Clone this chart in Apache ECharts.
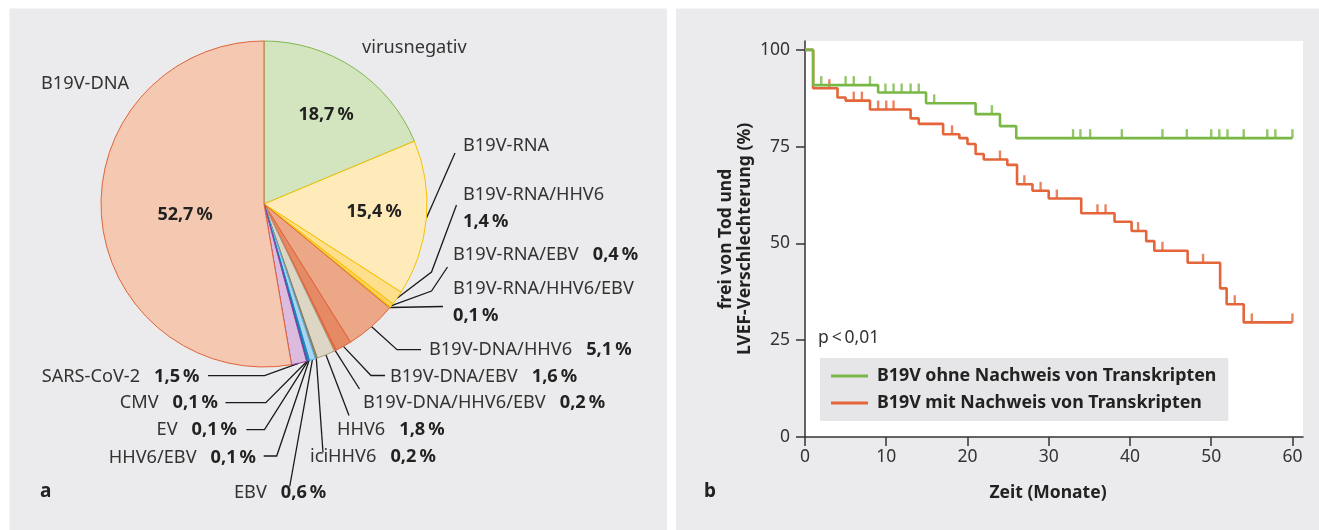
<!DOCTYPE html>
<html>
<head>
<meta charset="utf-8">
<script src="https://cdn.jsdelivr.net/npm/echarts@6/dist/echarts.min.js"></script>
<style>
html,body{margin:0;padding:0;background:#fff;}
#c{width:1319px;height:530px;}
</style>
</head>
<body>
<div id="c"></div>
<script>
// ---------- Data: panel a (pie) ----------
const pieNames = ['virusnegativ','B19V-RNA','B19V-RNA/HHV6','B19V-RNA/EBV','B19V-RNA/HHV6/EBV',
  'B19V-DNA/HHV6','B19V-DNA/EBV','B19V-DNA/HHV6/EBV','HHV6','iciHHV6','EBV','HHV6/EBV','EV','CMV',
  'SARS-CoV-2','B19V-DNA'];
const pieValues = [18.7,15.4,1.4,0.4,0.1,5.1,1.6,0.2,1.8,0.2,0.6,0.1,0.1,0.1,1.5,52.7];

// ---------- Data: panel b (Kaplan-Meier) ----------
const xTicks = [0,10,20,30,40,50,60];
const yTicks = [0,25,50,75,100];
const ohneTimes = [0,1,9,14.9,21,24,26];
const ohneSurv  = [100,90.9,89.0,86.2,83.4,80.3,77.2];
const ohneCensor = [2,5,6,8,9.9,10.9,11.9,13,14,15.9,23,33,33.9,35.1,39,44,47,50,51,52,54,56.9,57.9,60];
const mitTimes = [0,1,4,5,8,13,14,17,19,20,21,22,24.9,26.1,28,30,34,38.1,40.2,42,43,47.1,51.1,51.9,54];
const mitSurv  = [100,90.1,87.7,86.9,84.6,82.3,80.9,78.2,77.2,75.7,73.1,71.7,70.3,65.3,63.6,61.6,57.8,55.6,53.2,50.6,48.1,45.0,38.4,34.3,29.6];
const mitCensor = [3,6,7,9,10,10.9,18.1,24,27,29,31,36,37,41,44,49,52.9,55,60];
const followUpEnd = 60;
const seriesNames = ['B19V ohne Nachweis von Transkripten','B19V mit Nachweis von Transkripten'];

// ---------- Styles ----------
const FONT = 'Noto Sans';
const pieFill = ['#d3e5bf','#feebb9','#fedf8c','#fdd25a','#f9c11c','#eca786','#e68a66','#e06c42',
  '#ddd6c5','#8c7d5c','#a9d5f0','#2a93cf','#4fa6d8','#1470a6','#dcbcde','#f4c8b1'];
const pieBorder = ['#80b84a','#f6c100','#f6c100','#f6c100','#f6c100','#e0643a','#e0643a','#e0643a',
  '#a89c80','#8c7d5c','#5aaee0','#1e86c0','#1e86c0','#1470a6','#9b3a9f','#e0643a'];
const GREEN = '#79b845', RED = '#e4653a';

// label placement for the pie (text anchor + leader-line bends)
const outerLayout = {
  0:{x:362,y:48,align:'left',mode:'name'},
  1:{x:463,y:146,align:'left',mode:'name',line:[[455,153]]},
  2:{x:463,y:181,align:'left',va:'top',mode:'two',line:[[431.5,272],[456.5,205]]},
  3:{x:453,y:255,align:'left',mode:'inline',line:[[431.5,291],[447.5,267]]},
  4:{x:453,y:275.5,align:'left',va:'top',mode:'two',line:[[443,306.5]]},
  5:{x:429,y:350,align:'left',mode:'inline',line:[[397,349.7],[421,349.7]]},
  6:{x:390,y:377,align:'left',mode:'inline',line:[[371,375.5],[385,375.5]]},
  7:{x:363,y:403,align:'left',mode:'inline',line:[[359.5,389]]},
  8:{x:337,y:430,align:'left',mode:'inline',line:[[349,415.5]]},
  9:{x:310,y:457,align:'left',mode:'inline',line:[[323,452.5]]},
  10:{x:234,y:493,align:'left',mode:'inline',line:[[289.7,486.5]]},
  11:{x:256,y:458,align:'right',mode:'inline',line:[[276.7,456],[263.7,456]]},
  12:{x:237,y:430,align:'right',mode:'inline',line:[[264.5,429.7],[246.3,429.7]]},
  13:{x:218,y:403,align:'right',mode:'inline',line:[[265.8,402.7],[225.5,402.7]]},
  14:{x:199.5,y:377,align:'right',mode:'inline',line:[[264.5,375.7],[208,375.7]]},
  15:{x:41,y:84,align:'left',mode:'name'}
};
const innerLayout = {0:[326,115],1:[374,212],15:[185,215]};

function fmtPct(v){ return v.toFixed(1).replace('.',',') + '\u2009%'; }
function survAt(times, surv, t){
  let s = surv[0];
  for (let i=0;i<times.length;i++){ if (times[i] <= t) s = surv[i]; }
  return s;
}
function stepData(times, surv){
  const d = times.map((t,i)=>[t, surv[i]]);
  d.push([followUpEnd, surv[surv.length-1]]);
  return d;
}
function censorData(times, surv, cens){
  return cens.map(t=>[t, survAt(times, surv, t)]);
}

const chart = echarts.init(document.getElementById('c'), null, {renderer:'canvas'});

const pieData = pieNames.map((n,i)=>({
  name:n, value:pieValues[i],
  itemStyle:{color:pieFill[i], borderColor:pieBorder[i], borderWidth:1},
  labelLine:{show: !!outerLayout[i].line}
}));
const innerData = pieNames.map((n,i)=>({
  name:n, value:pieValues[i],
  label:{show: innerLayout[i] !== undefined}
}));

const LBL = 18.2;

const option = {
  animation:false,
  backgroundColor:'#ffffff',
  textStyle:{fontFamily:FONT},
  graphic:[
    {type:'rect', z:-10, silent:true, shape:{x:9.5,y:8.5,width:657.5,height:522}, style:{fill:'#ebebed'}},
    {type:'rect', z:-10, silent:true, shape:{x:676,y:8.5,width:643,height:522}, style:{fill:'#ebebed'}},
    {type:'text', left:40, top:482, style:{text:'a', font:'bold 19px "Noto Sans"', fill:'#222'}},
    {type:'text', left:704, top:482, style:{text:'b', font:'bold 19px "Noto Sans"', fill:'#222'}},
    {type:'text', left:818, top:329, style:{text:'p\u2009<\u20090,01', font:'17.5px "Noto Sans"', fill:'#333'}}
  ],
  legend:{
    left:820, top:358, orient:'vertical',
    backgroundColor:'#e6e6e8', padding:[9,12,9,11],
    itemWidth:37, itemHeight:3, itemGap:9,
    icon:'rect',
    data:[{name:seriesNames[0], itemStyle:{color:GREEN}}, {name:seriesNames[1], itemStyle:{color:RED}}],
    textStyle:{fontFamily:FONT, fontSize:17.8, fontWeight:'bold', color:'#222', padding:[0,0,0,4]},
    selectedMode:false
  },
  grid:{left:805, top:41, right:16, bottom:93, show:true, backgroundColor:'#ffffff', borderWidth:0},
  xAxis:{
    type:'value', min:0, max:61.3,
    name:'Zeit (Monate)', nameLocation:'middle', nameGap:47,
    nameTextStyle:{fontFamily:FONT, fontSize:17.5, fontWeight:'bold', color:'#222', padding:[0,12,0,0]},
    axisLine:{lineStyle:{color:'#333', width:1.5}},
    axisTick:{show:true, length:9, lineStyle:{color:'#333', width:1.5}, customValues:xTicks},
    axisLabel:{fontFamily:FONT, fontSize:17.5, color:'#333', margin:11, customValues:xTicks},
    splitLine:{show:false}
  },
  yAxis:{
    type:'value', min:0, max:102.3,
    name:'frei von Tod und\nLVEF-Verschlechterung (%)', nameLocation:'middle', nameGap:50,
    nameTextStyle:{fontFamily:FONT, fontSize:17.5, fontWeight:'bold', color:'#222', lineHeight:19},
    axisLine:{show:true, lineStyle:{color:'#333', width:1.5}},
    axisTick:{show:true, length:9, lineStyle:{color:'#333', width:1.5}, customValues:yTicks},
    axisLabel:{fontFamily:FONT, fontSize:17.5, color:'#333', margin:15, customValues:yTicks},
    splitLine:{show:false}
  },
  series:[
    {
      type:'pie', center:[264,204], radius:163, startAngle:90, clockwise:true,
      avoidLabelOverlap:false, silent:true, z:2,
      data:pieData,
      label:{
        show:true, position:'outside', color:'#333',
        formatter:function(p){
          const L = outerLayout[p.dataIndex];
          const pct = fmtPct(pieValues[p.dataIndex]);
          if (L.mode === 'name') return '{n|' + p.name + '}';
          if (L.mode === 'two') return '{n|' + p.name + '}\n{b|' + pct + '}';
          return '{n|' + p.name + '}{g| }{b|' + pct + '}';
        },
        rich:{
          n:{fontFamily:FONT, fontSize:LBL, color:'#333', lineHeight:27},
          b:{fontFamily:FONT, fontSize:LBL, fontWeight:'bold', color:'#222', lineHeight:27},
          g:{width:14, lineHeight:27}
        }
      },
      labelLine:{show:true, length:10, length2:10, lineStyle:{color:'#1a1a1a', width:1.3}},
      labelLayout:function(p){
        const L = outerLayout[p.dataIndex];
        const r = {x:L.x, y:L.y, align:L.align, verticalAlign:L.va || 'middle'};
        if (L.line && p.labelLinePoints && p.labelLinePoints.length){
          r.labelLinePoints = [p.labelLinePoints[0]].concat(L.line);
        }
        return r;
      }
    },
    {
      type:'pie', center:[264,204], radius:163, startAngle:90, clockwise:true,
      avoidLabelOverlap:false, silent:true, z:3,
      itemStyle:{color:'rgba(0,0,0,0)', borderWidth:0},
      data:innerData,
      label:{
        position:'inside', fontFamily:FONT, fontSize:18, fontWeight:'bold', color:'#222',
        formatter:function(p){ return fmtPct(pieValues[p.dataIndex]); }
      },
      labelLine:{show:false},
      labelLayout:function(p){
        const c = innerLayout[p.dataIndex];
        if (!c) return {};
        return {x:c[0], y:c[1], align:'center', verticalAlign:'middle'};
      }
    },
    {
      name:seriesNames[1], type:'line', step:'end', symbol:'none', z:4,
      data:stepData(mitTimes, mitSurv),
      lineStyle:{color:RED, width:2.6}, itemStyle:{color:RED}
    },
    {
      name:seriesNames[0], type:'line', step:'end', symbol:'none', z:5,
      data:stepData(ohneTimes, ohneSurv),
      lineStyle:{color:GREEN, width:2.6}, itemStyle:{color:GREEN}
    },
    {
      type:'scatter', symbol:'rect', symbolSize:[2.4,9], symbolOffset:[0,-4.5], z:4,
      data:censorData(mitTimes, mitSurv, mitCensor), itemStyle:{color:RED}, silent:true
    },
    {
      type:'scatter', symbol:'rect', symbolSize:[2.4,9], symbolOffset:[0,-4.5], z:5,
      data:censorData(ohneTimes, ohneSurv, ohneCensor), itemStyle:{color:GREEN}, silent:true
    }
  ]
};
chart.setOption(option);
</script>
</body>
</html>
